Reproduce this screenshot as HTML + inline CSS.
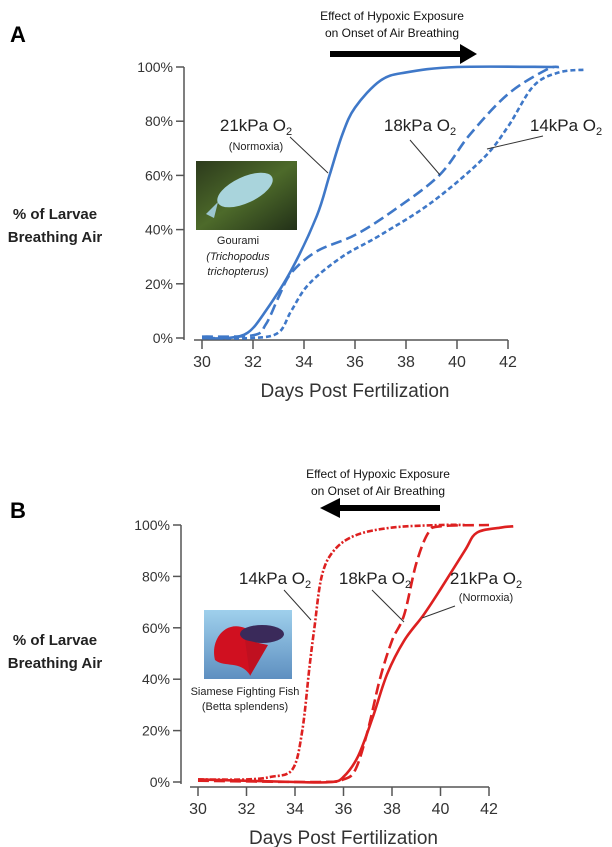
<!DOCTYPE html>
<html><head><meta charset="utf-8"><style>
body{margin:0;background:#fff;}
svg{display:block;font-family:"Liberation Sans",sans-serif;}
</style></head><body>
<svg id="fig" width="612" height="847" viewBox="0 0 612 847">
<defs>
<linearGradient id="gA" x1="0" y1="0" x2="1" y2="1"><stop offset="0" stop-color="#2c3a1c"/><stop offset="0.5" stop-color="#4d6a2a"/><stop offset="1" stop-color="#223018"/></linearGradient>
<linearGradient id="gB" x1="0" y1="0" x2="0" y2="1"><stop offset="0" stop-color="#9fd0ec"/><stop offset="1" stop-color="#5e8fc0"/></linearGradient>
</defs>
<g id="panelA"></g>
<g id="panelB"></g>
</svg>
<script>
const ticksX=[30,32,34,36,38,40,42];
const ticksY=[0,20,40,60,80,100];
const tickYLabels=["0%","20%","40%","60%","80%","100%"];
const a21x=[30,31,31.8,32.5,33.5,34.5,35,35.5,36,37,38,40,43.8];
const a21y=[0,0,2,10,25,45,60,75,85,95,98,100,100];
const a18x=[30,32,32.5,33,33.5,34.5,36,37.5,39.3,40.5,42,43.5,44];
const a18y=[0.5,1,5,15,24,32,38,47,60,75,90,99,100];
const a14x=[30,32,33,33.5,34.2,35.5,37,39,41,42,43,44,45];
const a14y=[0,0,2,10,20,30,38,50,66,78,93,98,99];
const b14x=[30,32,33,33.9,34.3,34.6,34.8,35.1,35.6,36.5,38,40,41];
const b14y=[1,1,2,5,20,45,60,80,90,96,99,100,100];
const b18x=[30,35,36,36.5,37,37.5,38,38.5,39,39.5,40,42];
const b18y=[0.5,0,1,5,20,40,55,65,85,97,99.5,100];
const b21x=[30,34,35.5,36,36.6,37.2,37.8,38.5,39.3,40,41,41.5,42.5,43];
const b21y=[1,0,0,2,10,25,42,55,65,75,90,97,99,99.5];
const NS="http://www.w3.org/2000/svg";
function mk(p,t,at,txt){const e=document.createElementNS(NS,t);for(const k in at)e.setAttribute(k,at[k]);if(txt!==undefined)e.textContent=txt;p.appendChild(e);return e;}
function spline(pts){let d="M"+pts[0][0]+","+pts[0][1];for(let i=0;i<pts.length-1;i++){const p0=pts[Math.max(0,i-1)],p1=pts[i],p2=pts[i+1],p3=pts[Math.min(pts.length-1,i+2)];const c1=[p1[0]+(p2[0]-p0[0])/6,p1[1]+(p2[1]-p0[1])/6],c2=[p2[0]-(p3[0]-p1[0])/6,p2[1]-(p3[1]-p1[1])/6];d+=" C"+c1+" "+c2+" "+p2;}return d;}
function panel(g,o){
 const sx=v=>o.x0+(v-30)/12*(o.x1-o.x0), sy=v=>o.y0-(v/100)*(o.y0-o.y1);
 let e;
 e=mk(g,"text",{x:10,y:o.letterY,"font-size":22,"font-weight":"bold"},o.letter);
 
 
 e=mk(g,"line",{x1:o.ax,y1:o.y1,x2:o.ax,y2:o.y0+2,stroke:"#555","stroke-width":1.5});
 
 
 ticksY.forEach((t,i)=>{mk(g,"line",{x1:o.ax-8,x2:o.ax,y1:sy(t),y2:sy(t),stroke:"#555","stroke-width":1.5});
  e=mk(g,"text",{x:o.ax-11,y:sy(t)+5,"font-size":14,"text-anchor":"end",fill:"#333"},tickYLabels[i]);
  
  });
 e=mk(g,"line",{x1:o.x0-8,x2:o.x1,y1:o.xa,y2:o.xa,stroke:"#555","stroke-width":1.5});
 
 
 ticksX.forEach(t=>{mk(g,"line",{x1:sx(t),x2:sx(t),y1:o.xa,y2:o.xa+9,stroke:"#555","stroke-width":1.5});
  e=mk(g,"text",{x:sx(t),y:o.xa+27,"font-size":16,"text-anchor":"middle",fill:"#333"},t);
  
  });
 e=mk(g,"text",{x:(o.x0+o.x1)/2,y:o.xa+57,"font-size":19,"text-anchor":"middle",fill:"#333"},"Days Post Fertilization");
 
 
 e=mk(g,"text",{x:55,y:o.ytY,"font-size":15,"font-weight":"bold","text-anchor":"middle",fill:"#222"},"%  of Larvae");
 
 
 e=mk(g,"text",{x:55,y:o.ytY+23,"font-size":15,"font-weight":"bold","text-anchor":"middle",fill:"#222"},"Breathing Air");
 
 
 e=mk(g,"text",{x:o.effX,y:o.effY,"font-size":12,"text-anchor":"middle",fill:"#111"},"Effect of Hypoxic Exposure");
 
 
 e=mk(g,"text",{x:o.effX,y:o.effY+17,"font-size":12,"text-anchor":"middle",fill:"#111"},"on Onset of Air Breathing");
 
 
 e=mk(g,"path",{d:o.arrow,fill:"#000"});
 
 
 o.series.forEach(s=>{const pts=s.x.map((v,i)=>[sx(v),sy(s.y[i])]);
  e=mk(g,"path",{d:spline(pts),fill:"none",stroke:o.color,"stroke-width":2.6,"stroke-dasharray":s.dash});
  
  });
 o.labels.forEach(l=>{e=mk(g,"text",{x:l.x,y:l.y,"font-size":l.fs,fill:"#222","text-anchor":"middle"});
  e.innerHTML=l.t;
  
  
  if(l.l){e=mk(g,"line",{x1:l.l[0],y1:l.l[1],x2:l.l[2],y2:l.l[3],stroke:"#333","stroke-width":1});
  
  }});
}
const A=document.getElementById("panelA"),B=document.getElementById("panelB");
let p=mk(A,"g",{});


mk(p,"rect",{x:196,y:161,width:101,height:69,fill:"url(#gA)"});
mk(p,"ellipse",{cx:245,cy:190,rx:30,ry:13,fill:"#a9d4dc",transform:"rotate(-25 245 190)"});
mk(p,"path",{d:"M218 202 L206 214 L214 218 Z",fill:"#9cc6cf"});
let t=mk(A,"text",{x:238,y:244,"font-size":11,"text-anchor":"middle",fill:"#222"},"Gourami");


t=mk(A,"text",{x:238,y:260,"font-size":11,"text-anchor":"middle","font-style":"italic",fill:"#222"},"(Trichopodus");


t=mk(A,"text",{x:238,y:275,"font-size":11,"text-anchor":"middle","font-style":"italic",fill:"#222"},"trichopterus)");


p=mk(B,"g",{});


mk(p,"rect",{x:204,y:610,width:88,height:69,fill:"url(#gB)"});
mk(p,"path",{d:"M215 660 C210 640 225 620 245 628 C255 632 258 650 250 675 C240 660 225 668 215 660 Z",fill:"#d01020"});
mk(p,"ellipse",{cx:262,cy:634,rx:22,ry:9,fill:"#3a2a5a"});
mk(p,"path",{d:"M245 640 L268 645 L250 676 Z",fill:"#c01020"});
t=mk(B,"text",{x:245,y:695,"font-size":11,"text-anchor":"middle",fill:"#222"},"Siamese Fighting Fish");


t=mk(B,"text",{x:245,y:710,"font-size":11,"text-anchor":"middle",fill:"#222"},"(Betta splendens)");


const sub='O<tspan font-size="11" dy="4">2</tspan>';
panel(A,{letter:"A",letterY:42,x0:202,x1:508,y0:338,y1:67,ax:184,xa:340,color:"#3f78c8",ytY:219,effX:392,effY:20,
 arrow:"M330 51 L460 51 L460 44 L477 54 L460 64 L460 57 L330 57 Z",
 series:[{x:a21x,y:a21y,dash:"none",name:"line-21kpa"},{x:a18x,y:a18y,dash:"11 5",name:"line-18kpa"},{x:a14x,y:a14y,dash:"5 3",name:"line-14kpa"}],
 labels:[{x:256,y:131,fs:17,t:"21kPa "+sub,l:[290,137,328,173]},{x:256,y:150,fs:11,t:"(Normoxia)"},
  {x:420,y:131,fs:17,t:"18kPa "+sub,l:[410,140,440,175]},{x:566,y:131,fs:17,t:"14kPa "+sub,l:[543,136,487,149]}]});
panel(B,{letter:"B",letterY:518,x0:198,x1:489,y0:782,y1:525,ax:181,xa:787,color:"#dd2020",ytY:645,effX:378,effY:478,
 arrow:"M440 505 L340 505 L340 498 L320 508 L340 518 L340 511 L440 511 Z",
 series:[{x:b21x,y:b21y,dash:"none",name:"line-21kpa"},{x:b18x,y:b18y,dash:"11 5",name:"line-18kpa"},{x:b14x,y:b14y,dash:"6 2 2 2",name:"line-14kpa"}],
 labels:[{x:275,y:584,fs:17,t:"14kPa "+sub,l:[284,590,311,620]},{x:375,y:584,fs:17,t:"18kPa "+sub,l:[372,590,404,622]},
  {x:486,y:584,fs:17,t:"21kPa "+sub,l:[455,606,422,618]},{x:486,y:601,fs:11,t:"(Normoxia)"}]});
</script>
</body></html>
